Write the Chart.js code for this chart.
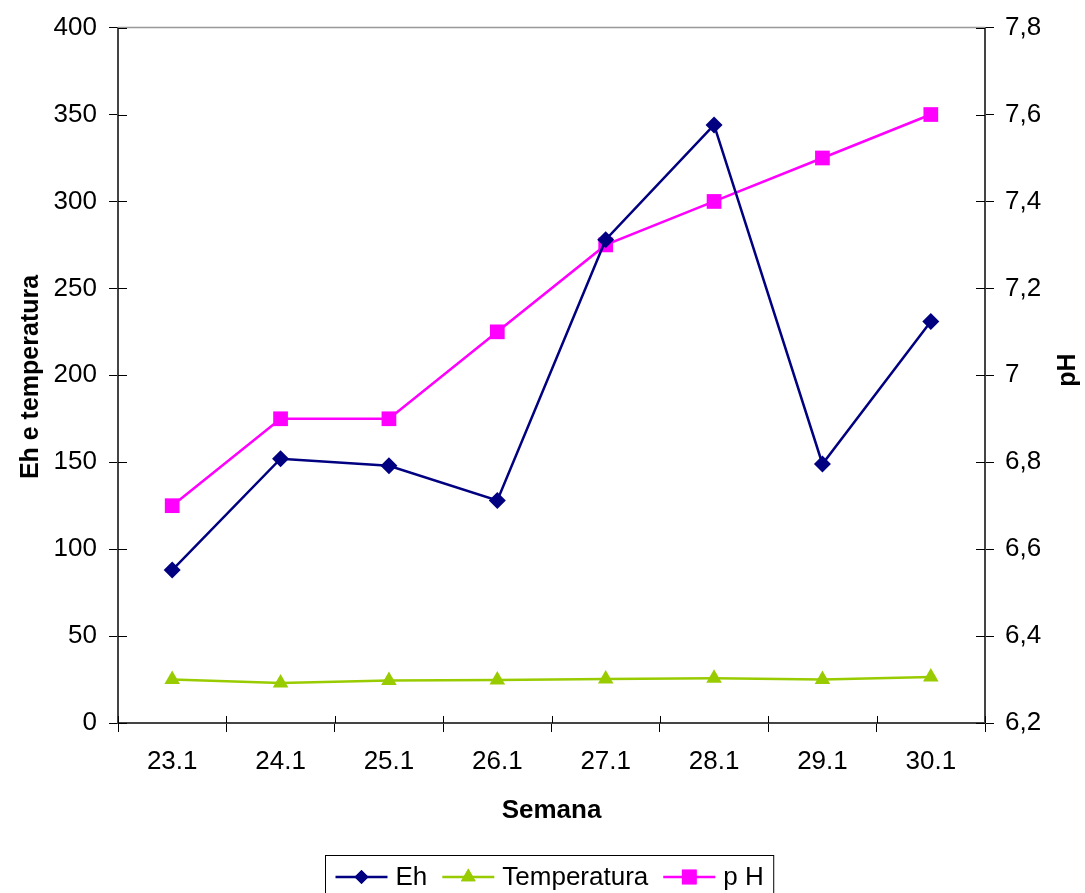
<!DOCTYPE html>
<html>
<head>
<meta charset="utf-8">
<script src="https://cdn.jsdelivr.net/npm/chart.js@4.4.0/dist/chart.umd.min.js"></script>
<style>
  html, body { margin: 0; padding: 0; background: #fff; }
  #wrap { width: 1085px; height: 893px; }
</style>
</head>
<body>
<div id="wrap"><canvas id="chart" width="1085" height="893"></canvas></div>
<script>
// Dados
const semanas = ["23.1", "24.1", "25.1", "26.1", "27.1", "28.1", "29.1", "30.1"];
const eh = [88, 152, 148, 128, 278, 344, 149, 231];
const temperatura = [25, 23, 24.5, 24.8, 25.3, 25.8, 25, 26.5];
const ph = [6.7, 6.9, 6.9, 7.1, 7.3, 7.4, 7.5, 7.6];

const ticksEsq = [0, 50, 100, 150, 200, 250, 300, 350, 400];
const ticksDir = [6.2, 6.4, 6.6, 6.8, 7.0, 7.2, 7.4, 7.6, 7.8];

const FONT = "'Liberation Sans', Arial, sans-serif";
Chart.defaults.font.family = FONT;
Chart.defaults.font.size = 26;
Chart.defaults.color = "#000";

const series = [
  { label: "Eh", data: eh, color: "#000080", style: "rectRot", radius: 8.5, legendRadius: 7, axis: "y" },
  { label: "Temperatura", data: temperatura, color: "#99CC00", style: "triangle", radius: 9, legendRadius: 8.5, axis: "y" },
  { label: "p H", data: ph, color: "#FF00FF", style: "rect", radius: 10.4, legendRadius: 10.4, axis: "y1" },
];

// ticks que cruzam o eixo, borda de cima, títulos e legenda com moldura
const extras = {
  id: "extras",
  beforeDatasetsDraw(chart) {
    const ctx = chart.ctx;
    const a = chart.chartArea;
    ctx.save();
    ctx.strokeStyle = "#999";
    ctx.lineWidth = 1.5;
    ctx.beginPath();
    ctx.moveTo(a.left, a.top);
    ctx.lineTo(a.right, a.top);
    ctx.stroke();

    ctx.strokeStyle = "#000";
    ctx.lineWidth = 1;
    ctx.beginPath();
    const n = semanas.length;
    for (let i = 0; i <= n; i++) {
      const px = Math.round(a.left + (i * (a.right - a.left)) / n) + 0.5;
      ctx.moveTo(px, a.bottom - 7);
      ctx.lineTo(px, a.bottom);
    }
    ticksEsq.forEach((v) => {
      const py = Math.round(chart.scales.y.getPixelForValue(v)) + 0.5;
      ctx.moveTo(a.left, py);
      ctx.lineTo(a.left + 9, py);
    });
    ticksDir.forEach((v) => {
      const py = Math.round(chart.scales.y1.getPixelForValue(v)) + 0.5;
      ctx.moveTo(a.right - 9, py);
      ctx.lineTo(a.right, py);
    });
    ctx.stroke();
    ctx.restore();
  },
  afterDraw(chart) {
    const ctx = chart.ctx;
    const a = chart.chartArea;
    ctx.save();
    ctx.fillStyle = "#000";
    ctx.textAlign = "center";
    ctx.textBaseline = "middle";

    ctx.font = "bold 25px " + FONT;
    ctx.save();
    ctx.translate(31, 377);
    ctx.rotate(-Math.PI / 2);
    ctx.fillText("Eh e temperatura", 0, 0);
    ctx.restore();

    ctx.save();
    ctx.translate(1068, 370);
    ctx.rotate(-Math.PI / 2);
    ctx.fillText("pH", 0, 0);
    ctx.restore();

    ctx.font = "bold 26px " + FONT;
    ctx.fillText("Semana", (a.left + a.right) / 2, 811);

    // legenda
    ctx.font = "26px " + FONT;
    const lineLen = 52, gapTxt = 8, gapItem = 15, pad = 10;
    const widths = series.map((s) => ctx.measureText(s.label).width);
    let total = pad * 2;
    widths.forEach((w, i) => { total += lineLen + gapTxt + w + (i < widths.length - 1 ? gapItem : 0); });
    const bx = Math.round(549.5 - total / 2) + 0.5;
    const by = 855.5;
    ctx.strokeStyle = "#000";
    ctx.lineWidth = 1;
    ctx.strokeRect(bx, by, total, 50);

    const cy = 877;
    let cx = bx + pad;
    ctx.textAlign = "left";
    series.forEach((s, i) => {
      ctx.strokeStyle = s.color;
      ctx.lineWidth = 2.5;
      ctx.beginPath();
      ctx.moveTo(cx, cy);
      ctx.lineTo(cx + lineLen, cy);
      ctx.stroke();
      ctx.fillStyle = s.color;
      Chart.helpers.drawPoint(ctx, { pointStyle: s.style, radius: s.legendRadius, rotation: 0, borderWidth: 0 }, cx + lineLen / 2, cy);
      ctx.fill();
      ctx.fillStyle = "#000";
      ctx.fillText(s.label, cx + lineLen + gapTxt, cy + 1);
      cx += lineLen + gapTxt + widths[i] + gapItem;
    });
    ctx.restore();
  },
};

function fixTicks(list) {
  return (scale) => { scale.ticks = list.map((v) => ({ value: v })); };
}

new Chart(document.getElementById("chart"), {
  type: "line",
  data: {
    labels: semanas,
    datasets: series.map((s) => ({
      label: s.label,
      data: s.data,
      yAxisID: s.axis,
      borderColor: s.color,
      backgroundColor: s.color,
      borderWidth: 2.5,
      pointStyle: s.style,
      pointRadius: s.radius,
      pointHoverRadius: s.radius,
      pointBorderWidth: 0,
      tension: 0,
      clip: false,
    })),
  },
  plugins: [extras],
  options: {
    responsive: false,
    animation: false,
    events: [],
    layout: { padding: { top: 27, left: 0, right: 0, bottom: 0 } },
    plugins: { legend: { display: false }, tooltip: { enabled: false } },
    scales: {
      x: {
        offset: true,
        grid: { offset: true, drawOnChartArea: false, tickLength: 9, color: "#000", lineWidth: 1 },
        border: { color: "#444", width: 2 },
        ticks: { padding: 14, maxRotation: 0, autoSkip: false },
        afterFit: (s) => { s.height = 170; },
      },
      y: {
        position: "left",
        min: 0,
        max: 400,
        afterBuildTicks: fixTicks(ticksEsq),
        grid: { drawOnChartArea: false, tickLength: 9, color: "#000", lineWidth: 1 },
        border: { color: "#444", width: 2 },
        ticks: { padding: 12 },
        afterFit: (s) => { s.width = 118; },
      },
      y1: {
        position: "right",
        min: 6.2,
        max: 7.8,
        afterBuildTicks: fixTicks(ticksDir),
        grid: { drawOnChartArea: false, tickLength: 9, color: "#000", lineWidth: 1 },
        border: { color: "#444", width: 2 },
        ticks: {
          padding: 11,
          callback: (v) => String(Math.round(v * 10) / 10).replace(".", ","),
        },
        afterFit: (s) => { s.width = 100; },
      },
    },
  },
});
</script>
</body>
</html>
